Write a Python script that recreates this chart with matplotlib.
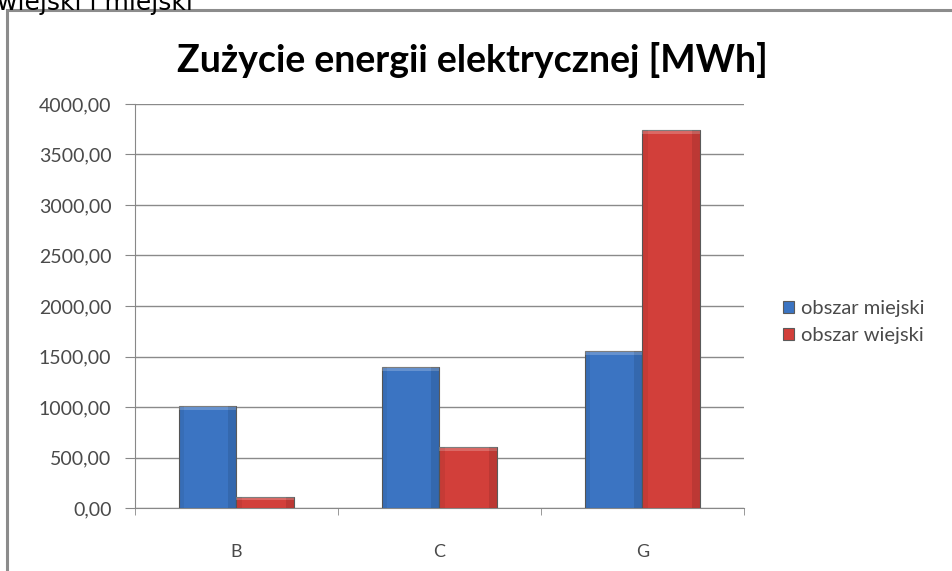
import numpy as np
import matplotlib.pyplot as plt
from matplotlib.patches import Rectangle

kategorie = ["B", "C", "G"]
miejski = [1010, 1400, 1550]
wiejski = [110, 600, 3740]
yticks = [0, 500, 1000, 1500, 2000, 2500, 3000, 3500, 4000]
seria = ["obszar miejski", "obszar wiejski"]

NIEBIESKI = "#3b74c2"
CZERWONY = "#d23f3a"
FONT = ["Lato", "DejaVu Sans"]

fig = plt.figure(figsize=(9.53, 5.71), dpi=100)

# ramka wykresu (lewa i gorna krawedz widoczna)
fig.patches.append(Rectangle((7 / 953, -0.05), 1.2, 1 - 10 / 571 + 0.05,
                             transform=fig.transFigure, fill=False,
                             edgecolor="#8c8c8c", linewidth=2.2))

# tekst z poprzedniej linii dokumentu, uciety u gory
fig.text(-0.003, 1.0 + 0.016, "wiejski i miejski", ha="left", va="top",
         fontsize=18, family="DejaVu Sans", color="black")

ax = fig.add_axes([135 / 953, 1 - 508 / 571, 609 / 953, 404 / 571])

x = np.arange(len(kategorie))
w = 0.285


def slupki(xs, vals, kolor, label):
    bars = ax.bar(xs, vals, width=w, color=kolor, edgecolor="#5a5a5a",
                  linewidth=0.8, label=label, zorder=3)
    for b in bars:
        h = b.get_height()
        # jasniejszy pasek u gory i ciemniejszy bok
        ax.add_patch(Rectangle((b.get_x(), h - min(40, h * 0.3)), b.get_width(),
                               min(40, h * 0.3), facecolor="white", alpha=0.22,
                               linewidth=0, zorder=4))
        ax.add_patch(Rectangle((b.get_x() + b.get_width() * 0.85, 0),
                               b.get_width() * 0.15, h, facecolor="black",
                               alpha=0.10, linewidth=0, zorder=4))
        ax.add_patch(Rectangle((b.get_x(), 0), b.get_width() * 0.1, h,
                               facecolor="black", alpha=0.06, linewidth=0, zorder=4))
    return bars


slupki(x - w / 2, miejski, NIEBIESKI, seria[0])
slupki(x + w / 2, wiejski, CZERWONY, seria[1])

ax.set_xlim(-0.5, len(kategorie) - 0.5)
ax.set_ylim(0, 4000)
ax.set_yticks(yticks)
ax.set_yticklabels([f"{v:.2f}".replace(".", ",") for v in yticks],
                   fontsize=14, color="#4a4a4a", family=FONT)
ax.set_xticks(x)
ax.set_xticklabels(kategorie, fontsize=13, color="#4a4a4a", family=FONT)
ax.tick_params(axis="x", length=0, pad=26)
ax.set_xticks(np.arange(len(kategorie) + 1) - 0.5, minor=True)
ax.tick_params(axis="x", which="minor", length=5, color="#888888", direction="out")
ax.tick_params(axis="y", length=7, color="#888888", pad=10)

ax.grid(axis="y", color="#8a8a8a", linewidth=1.0, zorder=0)
for s in ["top", "right"]:
    ax.spines[s].set_visible(False)
ax.spines["left"].set_color("#888888")
ax.spines["bottom"].set_color("#888888")

fig.text(472 / 953, 1 - 60 / 571, "Zużycie energii elektrycznej [MWh]",
         ha="center", va="center", fontsize=27, fontweight="bold",
         family=FONT, color="black")

leg = ax.legend(loc="center left", bbox_to_anchor=(1.035, 0.46), frameon=False,
                prop={"family": FONT, "size": 14.5}, handlelength=0.5,
                handleheight=0.5, handletextpad=0.35, labelspacing=0.5)
for t in leg.get_texts():
    t.set_color("#4a4a4a")

fig.savefig("out.png", dpi=100)
